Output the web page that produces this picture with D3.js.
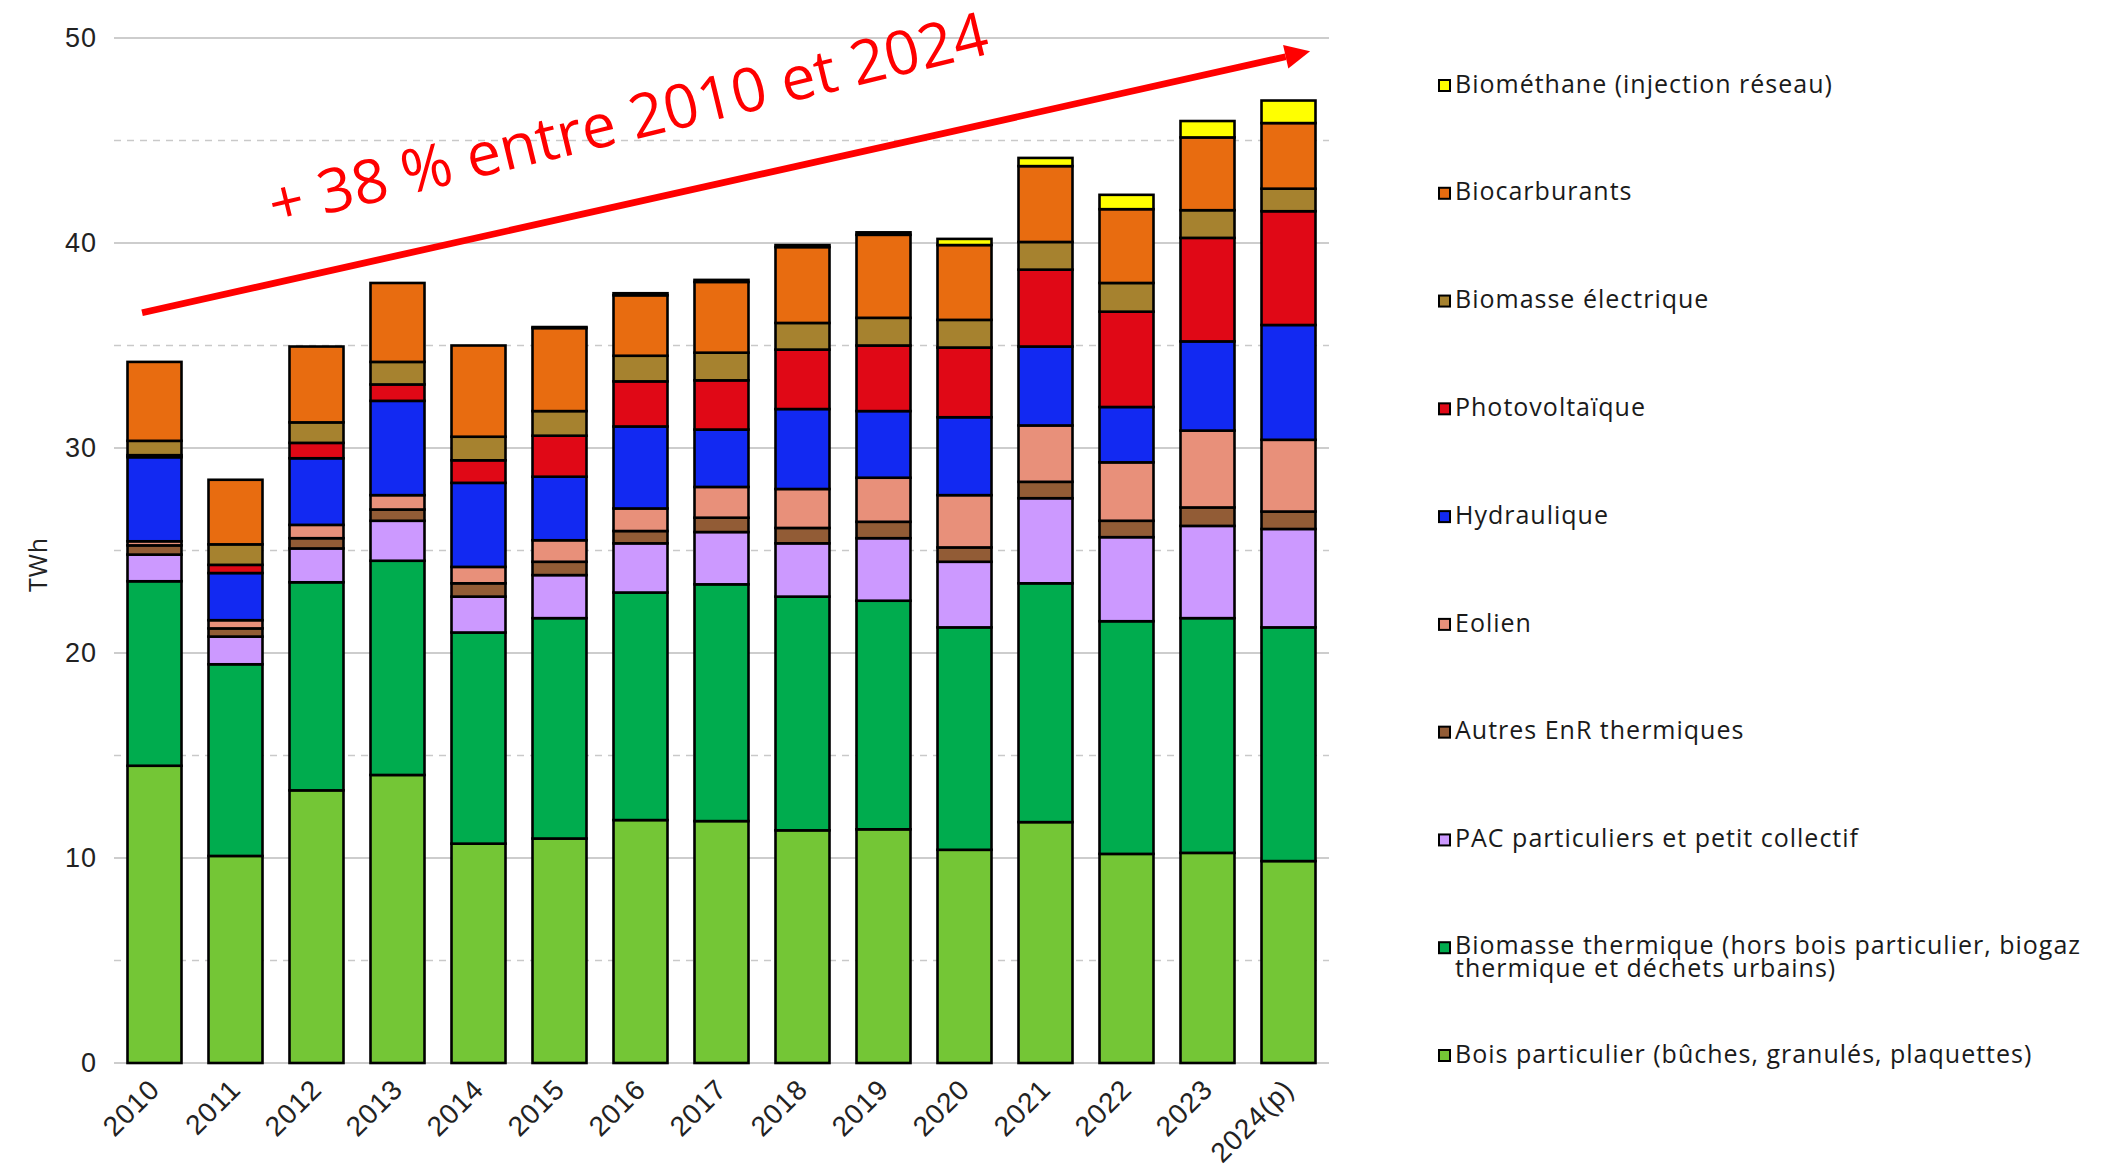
<!DOCTYPE html>
<html>
<head>
<meta charset="utf-8">
<script src="https://cdn.jsdelivr.net/npm/d3@7"></script>
<style>
  html, body { margin: 0; padding: 0; background: #ffffff; }
  svg { display: block; font-family: "Open Sans", "Noto Sans", sans-serif; }
</style>
</head>
<body>
<svg id="chart" width="2117" height="1165"></svg>
<script>
// ---------- DATA ----------
const years = ["2010","2011","2012","2013","2014","2015","2016","2017","2018","2019","2020","2021","2022","2023","2024(p)"];

const seriesNames = [
  "Bois particulier (bûches, granulés, plaquettes)",
  "Biomasse thermique (hors bois particulier, biogaz thermique et déchets urbains)",
  "PAC particuliers et petit collectif",
  "Autres EnR thermiques",
  "Eolien",
  "Hydraulique",
  "Photovoltaïque",
  "Biomasse électrique",
  "Biocarburants",
  "Biométhane (injection réseau)"
];

const boisParticulier    = [14.5, 10.1, 13.3, 14.05, 10.7, 10.95, 11.85, 11.8, 11.35, 11.4, 10.4, 11.75, 10.2, 10.25, 9.85];
const biomasseThermique  = [9.0, 9.35, 10.15, 10.45, 10.3, 10.75, 11.1, 11.55, 11.4, 11.15, 10.85, 11.65, 11.35, 11.45, 11.4];
const pacParticuliers    = [1.3, 1.35, 1.65, 1.95, 1.75, 2.1, 2.4, 2.55, 2.6, 3.05, 3.2, 4.15, 4.1, 4.5, 4.8];
const autresEnRTherm     = [0.45, 0.4, 0.5, 0.55, 0.65, 0.65, 0.6, 0.7, 0.75, 0.8, 0.7, 0.8, 0.8, 0.9, 0.85];
const eolien             = [0.2, 0.4, 0.65, 0.7, 0.8, 1.05, 1.1, 1.5, 1.9, 2.15, 2.55, 2.75, 2.85, 3.75, 3.5];
const hydraulique        = [4.1, 2.3, 3.25, 4.6, 4.1, 3.1, 4.0, 2.8, 3.9, 3.25, 3.8, 3.85, 2.7, 4.35, 5.6];
const photovoltaique     = [0.1, 0.4, 0.75, 0.8, 1.1, 2.0, 2.2, 2.4, 2.9, 3.2, 3.4, 3.75, 4.65, 5.05, 5.55];
const biomasseElectrique = [0.7, 1.0, 1.0, 1.1, 1.15, 1.2, 1.25, 1.35, 1.3, 1.35, 1.35, 1.35, 1.4, 1.35, 1.1];
const biocarburants      = [3.85, 3.15, 3.7, 3.85, 4.45, 4.05, 2.95, 3.45, 3.7, 4.05, 3.65, 3.7, 3.6, 3.55, 3.2];
const biomethane         = [0, 0, 0, 0, 0, 0.05, 0.1, 0.1, 0.1, 0.12, 0.3, 0.4, 0.7, 0.8, 1.1];

const seriesValues = [boisParticulier, biomasseThermique, pacParticuliers, autresEnRTherm, eolien,
                      hydraulique, photovoltaique, biomasseElectrique, biocarburants, biomethane];

const seriesColors = ["#74C636", "#00AC4E", "#CC99FF", "#925C36", "#E8907A",
                      "#1229F2", "#E00816", "#A6822F", "#E86C10", "#FFFF00"];

const yTicks = [0, 10, 20, 30, 40, 50];
const yMinorTicks = [5, 15, 25, 35, 45];
const yLabel = "TWh";

const annotationText = "+ 38 % entre 2010 et 2024";
const arrowFrom = { year: "2010", value: 36.6 };
const arrowTo = { year: "2024(p)", value: 49.35 };

// ---------- LAYOUT ----------
const svg = d3.select("#chart");
const plot = { left: 114, right: 1329, top: 38, bottom: 1063 };

const x = d3.scaleBand().domain(years).range([plot.left, plot.right])
  .paddingInner(1/3).paddingOuter(1/6);
const y = d3.scaleLinear().domain([0, 50]).range([plot.bottom, plot.top]);

// Grid lines
const grid = svg.append("g");
grid.selectAll("line.minor").data(yMinorTicks).join("line")
  .attr("x1", plot.left).attr("x2", plot.right)
  .attr("y1", d => y(d)).attr("y2", d => y(d))
  .attr("stroke", "#c9c9c9").attr("stroke-width", 1.3).attr("stroke-dasharray", "7,6");
grid.selectAll("line.major").data(yTicks).join("line")
  .attr("x1", plot.left).attr("x2", plot.right)
  .attr("y1", d => y(d)).attr("y2", d => y(d))
  .attr("stroke", "#bdbdbd").attr("stroke-width", 1.6);

// Y axis labels
const yAxis = d3.axisLeft(y).tickValues(yTicks).tickSize(0).tickPadding(17);
const gy = svg.append("g").attr("transform", `translate(${plot.left},0)`).call(yAxis);
gy.select(".domain").remove();
gy.selectAll("text").attr("font-size", 27).attr("fill", "#222").attr("letter-spacing", 1);

svg.append("text")
  .attr("transform", `translate(40,${(plot.top + plot.bottom) / 2 + 14}) rotate(-90)`)
  .attr("text-anchor", "middle").attr("dominant-baseline", "middle")
  .attr("font-size", 25).attr("fill", "#222").attr("letter-spacing", 1).text(yLabel);

// X axis labels
const xAxis = d3.axisBottom(x).tickSize(0).tickPadding(0);
const gx = svg.append("g").attr("transform", `translate(0,${plot.bottom})`).call(xAxis);
gx.select(".domain").remove();
gx.selectAll("text")
  .attr("font-size", 28).attr("fill", "#222")
  .attr("letter-spacing", 1)
  .attr("text-anchor", "end")
  .attr("dy", 0)
  .attr("transform", "translate(7,28) rotate(-45)");

// Stacked bars
const table = years.map((yr, i) => {
  const row = { year: yr };
  seriesNames.forEach((s, k) => row[s] = seriesValues[k][i]);
  return row;
});
const stack = d3.stack().keys(seriesNames)(table);

const layers = svg.append("g").selectAll("g").data(stack).join("g")
  .attr("fill", (d, k) => seriesColors[k]);
layers.selectAll("rect").data(d => d.filter(p => p[1] - p[0] > 0)).join("rect")
  .attr("x", d => x(d.data.year))
  .attr("width", x.bandwidth())
  .attr("y", d => y(d[1]))
  .attr("height", d => y(d[0]) - y(d[1]))
  .attr("stroke", "#000").attr("stroke-width", 2.6);

// Annotation arrow
const ax1 = x(arrowFrom.year) + x.bandwidth() * 0.27, ay1 = y(arrowFrom.value);
const ax2 = x(arrowTo.year) + x.bandwidth() * 0.9, ay2 = y(arrowTo.value);
const ang = Math.atan2(ay2 - ay1, ax2 - ax1);
const headLen = 25, headW = 12;
const bx = ax2 - headLen * Math.cos(ang), by = ay2 - headLen * Math.sin(ang);
svg.append("line")
  .attr("x1", ax1).attr("y1", ay1).attr("x2", bx).attr("y2", by)
  .attr("stroke", "#FF0000").attr("stroke-width", 6.8);
svg.append("polygon")
  .attr("points", [
    [ax2, ay2],
    [bx + headW * Math.sin(ang), by - headW * Math.cos(ang)],
    [bx - headW * Math.sin(ang), by + headW * Math.cos(ang)]
  ].map(p => p.join(",")).join(" "))
  .attr("fill", "#FF0000");

svg.append("text")
  .attr("transform", `translate(633,140) rotate(-13.6)`)
  .attr("text-anchor", "middle")
  .attr("font-size", 61).attr("fill", "#FF0000")
  .text(annotationText);

// Legend (top = last series)
const legendOrder = seriesNames.map((s, k) => k).reverse();
const legY = d3.scalePoint().domain(legendOrder).range([86, 1056]);
const leg = svg.append("g");
legendOrder.forEach(k => {
  const cy = legY(k);
  leg.append("rect")
    .attr("x", 1439).attr("y", cy - 6).attr("width", 11).attr("height", 11)
    .attr("fill", seriesColors[k]).attr("stroke", "#000").attr("stroke-width", 2);
  const t = leg.append("text").attr("x", 1455).attr("font-size", 25)
    .attr("letter-spacing", 1).attr("fill", "#1a1a1a");
  if (k === 1) {
    t.append("tspan").attr("x", 1455).attr("y", cy - 1).attr("dominant-baseline", "middle")
      .text("Biomasse thermique (hors bois particulier, biogaz");
    t.append("tspan").attr("x", 1455).attr("y", cy + 22).attr("dominant-baseline", "middle")
      .text("thermique et déchets urbains)");
  } else {
    t.attr("y", cy).attr("dominant-baseline", "middle").text(seriesNames[k]);
  }
});
</script>
</body>
</html>
